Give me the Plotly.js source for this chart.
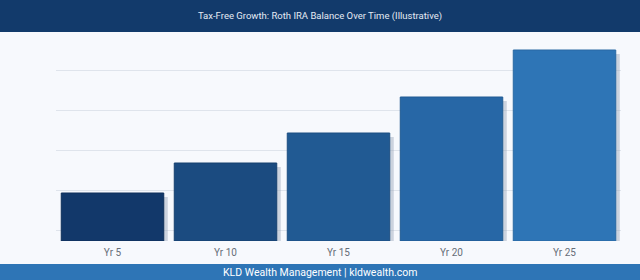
<!DOCTYPE html>
<html>
<head>
<meta charset="utf-8">
<script src="https://cdn.plot.ly/plotly-3.0.1.min.js"></script>
<style>
html,body{margin:0;padding:0;background:#f7f9fd;}
#chart{width:640px;height:280px;}
</style>
</head>
<body>
<div id="chart"></div>
<script>
var categories = ["Yr 5", "Yr 10", "Yr 15", "Yr 20", "Yr 25"];
var balances = [48, 78, 108, 144, 191];
var barColors = ["#12386a", "#1b4b80", "#215a93", "#2767a6", "#2e75b6"];
var lineColors = ["#0e2f5a", "#16416f", "#1c4f82", "#215b93", "#2869a3"];
var titleText = "Tax-Free Growth: Roth IRA Balance Over Time (Illustrative)";
var footerText = "KLD Wealth Management | kldwealth.com";

var W = 640, H = 280;
var L = 56, R = 19, T = 41, B = 39;
var pw = W - L - R, ph = H - T - B;
function px(x){ return (x - L) / pw; }
function py(y){ return (H - B - y) / ph; }

var barWidth = 0.907;
var shadowShift = 4 / (pw / categories.length);

var shadow = {
  type: "bar",
  x: categories,
  y: balances,
  base: balances.map(function(){ return -4; }),
  width: barWidth,
  offset: -barWidth / 2 + shadowShift,
  marker: {color: "rgba(150,165,185,0.45)", line: {width: 0}},
  hoverinfo: "skip",
  cliponaxis: false,
  showlegend: false
};
var bars = {
  type: "bar",
  x: categories,
  y: balances,
  width: barWidth,
  offset: -barWidth / 2,
  marker: {color: barColors, line: {color: lineColors, width: 1}},
  cliponaxis: false,
  showlegend: false
};

var layout = {
  width: W, height: H,
  margin: {l: L, r: R, t: T, b: B, pad: 0},
  paper_bgcolor: "#f7f9fd",
  plot_bgcolor: "#f7f9fd",
  barmode: "overlay",
  font: {family: "Roboto, sans-serif"},
  title: {
    text: titleText,
    font: {family: "Roboto, sans-serif", size: 9.5, color: "#e4eaf3"},
    xref: "container", yref: "container",
    x: 0.5, xanchor: "center",
    y: 1 - 16 / H, yanchor: "middle",
    pad: {t: 0, b: 0, l: 0, r: 0}
  },
  xaxis: {
    type: "category",
    showgrid: false, zeroline: false, showline: false,
    ticks: "",
    tickfont: {family: "Roboto, sans-serif", size: 10, color: "#666d78"},
    ticklabelstandoff: 4,
    fixedrange: true
  },
  yaxis: {
    range: [0, 200],
    tick0: 11, dtick: 40,
    showticklabels: false,
    showgrid: true, gridcolor: "#dfe4ec", gridwidth: 1,
    zeroline: false, showline: false, ticks: "",
    fixedrange: true
  },
  shapes: [
    {type: "rect", xref: "paper", yref: "paper", layer: "below",
     x0: px(0), x1: px(W), y0: py(0), y1: py(32),
     fillcolor: "#123a6b", line: {width: 0}},
    {type: "rect", xref: "paper", yref: "paper", layer: "below",
     x0: px(0), x1: px(W), y0: py(264), y1: py(H),
     fillcolor: "#2e75b6", line: {width: 0}}
  ],
  annotations: [
    {text: footerText, xref: "paper", yref: "paper",
     x: px(W / 2), y: py(272.5), xanchor: "center", yanchor: "middle",
     showarrow: false,
     font: {family: "Roboto, sans-serif", size: 10.5, color: "#ffffff"}}
  ]
};

Plotly.newPlot("chart", [shadow, bars], layout, {displayModeBar: false, staticPlot: true});
</script>
</body>
</html>
